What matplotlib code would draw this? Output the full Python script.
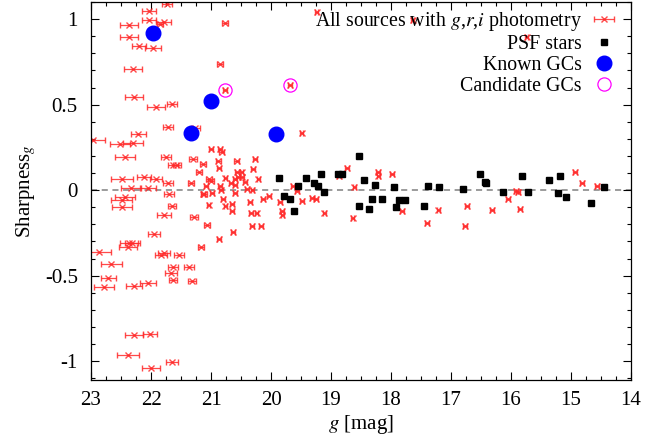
import matplotlib
matplotlib.use("Agg")
import matplotlib.pyplot as plt
from matplotlib.ticker import MultipleLocator, FuncFormatter

# All sources with g,r,i photometry: g mag, sharpness, g error
all_g = [21.73, 22.03, 22.03, 21.79, 21.85, 22.37, 22.36, 22.20, 21.97, 20.77,
         20.85, 22.30, 22.28, 21.91, 21.65, 21.72, 21.26, 22.21, 22.97, 22.52,
         22.30, 22.43, 21.75, 21.30, 21.63, 21.57, 21.13, 21.20, 22.48, 22.12,
         21.92, 21.72, 21.34, 21.04, 21.00, 22.33, 22.05, 21.70, 21.12, 22.43,
         22.49, 22.48, 21.65, 21.78, 21.28, 21.07, 21.95, 22.36, 22.31, 22.39,
         22.86, 21.83, 21.78, 21.53, 21.16, 22.66, 21.63, 21.37, 21.66, 22.71,
         21.63, 21.32, 22.05, 22.78, 22.28, 22.29, 22.02, 22.38, 21.65, 22.00,
         21.00, 20.85, 20.82, 20.88, 20.57, 20.27, 20.87, 20.30, 20.49, 20.57,
         20.76, 20.60, 20.55, 20.48, 20.21, 20.43, 20.67, 20.60, 21.08, 20.85,
         20.83, 20.40, 20.31, 19.63, 19.57, 20.80, 20.13, 20.03, 20.35, 20.60,
         21.13, 20.98, 21.04, 20.76, 20.65, 20.65, 20.33, 20.24, 19.85, 19.82,
         19.81, 19.32, 19.25, 19.48, 19.11, 18.64, 18.73, 18.61, 20.32, 20.17,
         20.63, 20.87, 19.49, 18.87, 18.22, 18.21, 17.98, 17.82, 17.40, 17.21,
         16.77, 16.73, 16.32, 16.05, 15.92, 15.88, 15.85, 14.93, 14.82, 14.57,
         19.24, 17.64, 15.74, 20.77, 19.68]
all_sharp = [1.090, 1.049, 0.996, 0.984, 0.971, 0.963, 0.896, 0.842, 0.830, 0.978,
             0.737, 0.709, 0.544, 0.484, 0.501, 0.372, 0.365, 0.326, 0.292, 0.269,
             0.275, 0.191, 0.193, 0.185, 0.146, 0.146, 0.152, 0.108, 0.064, 0.074,
             0.063, 0.039, 0.043, 0.064, 0.053, 0.013, 0.013, -0.025, -0.020, -0.041,
             -0.058, -0.101, -0.091, -0.146, -0.155, -0.202, -0.257, -0.308, -0.310, -0.332,
             -0.361, -0.377, -0.368, -0.378, -0.332, -0.431, -0.447, -0.447, -0.482, -0.513,
             -0.523, -0.532, -0.541, -0.569, -0.563, -0.844, -0.839, -0.963, -1.007, -1.039,
             0.240, 0.238, 0.222, 0.171, 0.168, 0.182, 0.132, 0.125, 0.105, 0.105,
             0.069, 0.064, 0.074, 0.076, 0.064, 0.047, 0.039, 0.029, 0.025, 0.023,
             0.000, 0.004, 0.003, 0.025, -0.003, -0.051, -0.054, -0.033, -0.069, -0.019,
             -0.020, -0.019, -0.089, -0.094, -0.082, -0.120, -0.136, -0.136, -0.070, -0.120,
             -0.143, -0.044, -0.051, -0.064, -0.136, -0.161, 0.127, 0.018, -0.211, -0.209,
             -0.244, -0.287, 0.332, 0.082, 0.107, 0.084, 0.094, -0.120, -0.191, -0.117,
             -0.209, -0.092, -0.114, -0.049, -0.004, -0.012, -0.111, 0.109, 0.043, 0.023,
             1.043, 0.994, 0.897, 0.585, 0.616]
all_gerr = [0.08, 0.12, 0.12, 0.13, 0.05, 0.15, 0.15, 0.12, 0.13, 0.05,
            0.05, 0.15, 0.15, 0.15, 0.08, 0.08, 0.07, 0.13, 0.20, 0.17,
            0.17, 0.17, 0.08, 0.07, 0.08, 0.07, 0.05, 0.05, 0.18, 0.12,
            0.10, 0.08, 0.05, 0.05, 0.05, 0.17, 0.13, 0.08, 0.05, 0.17,
            0.17, 0.17, 0.07, 0.12, 0.07, 0.05, 0.10, 0.15, 0.13, 0.15,
            0.20, 0.10, 0.10, 0.08, 0.05, 0.18, 0.08, 0.08, 0.10, 0.13,
            0.07, 0.07, 0.13, 0.17, 0.13, 0.15, 0.12, 0.18, 0.10, 0.15,
            0.04, 0.04, 0.04, 0.04, 0.04, 0.03, 0.03, 0.03, 0.03, 0.03,
            0.03, 0.03, 0.03, 0.03, 0.03, 0.03, 0.03, 0.03, 0.03, 0.03,
            0.03, 0.03, 0.03, 0.03, 0.03, 0.03, 0.03, 0.03, 0.03, 0.03,
            0.03, 0.03, 0.03, 0.03, 0.03, 0.03, 0.03, 0.03, 0.03, 0.03,
            0.03, 0.03, 0.03, 0.03, 0.03, 0.03, 0.03, 0.03, 0.03, 0.03,
            0.03, 0.03, 0.03, 0.03, 0.03, 0.03, 0.03, 0.03, 0.03, 0.03,
            0.03, 0.03, 0.03, 0.03, 0.03, 0.03, 0.03, 0.03, 0.03, 0.03,
            0.03, 0.03, 0.03, 0.03, 0.03]

# PSF stars
psf_g = [19.87, 19.42, 19.28, 19.16, 18.88, 18.82, 18.53, 19.55, 19.22, 19.12,
         19.79, 19.68, 19.62, 18.54, 18.45, 18.27, 17.95, 17.39, 17.20, 16.80,
         18.36, 18.31, 18.15, 17.91, 17.86, 17.77, 17.45, 16.51, 16.44, 16.41,
         16.13, 15.81, 15.72, 15.37, 15.19, 15.21, 15.08, 14.66, 14.45]
psf_sharp = [0.072, 0.072, 0.044, 0.092, 0.092, 0.095, 0.199, 0.023, 0.023, -0.010,
             -0.036, -0.049, -0.123, -0.091, 0.058, 0.033, 0.016, 0.023, 0.020, 0.006,
             -0.108, -0.053, -0.051, -0.096, -0.060, -0.055, -0.092, 0.093, 0.045, 0.041,
             -0.012, 0.080, -0.012, 0.060, 0.080, -0.016, -0.043, -0.078, 0.016]

# Known GCs
gc_g = [21.97, 21.00, 21.34, 19.92]
gc_sharp = [0.918, 0.520, 0.337, 0.330]

# Candidate GCs
cand_g = [20.77, 19.68]
cand_sharp = [0.585, 0.616]

plt.rcParams['font.family'] = ['Liberation Serif', 'DejaVu Serif']
plt.rcParams['mathtext.fontset'] = 'stix'
plt.rcParams['axes.unicode_minus'] = False
plt.rcParams['font.size'] = 15

fig = plt.figure(figsize=(6.65, 4.41), dpi=100)
ax = fig.add_axes([91 / 665, 1 - 380 / 441, 540 / 665, 378 / 441])

red = '#ff2a2a'
ax.axhline(0, color='#808080', linestyle=(0, (4, 3)), linewidth=1.1, zorder=1)

h_all = ax.errorbar(all_g, all_sharp, xerr=all_gerr, fmt='x', color=red, ms=4, mew=1.0,
                    elinewidth=0.9, capsize=2.4, capthick=0.9, alpha=0.85, zorder=2)
h_psf, = ax.plot(psf_g, psf_sharp, 's', color='black', ms=5, zorder=3)
h_gc, = ax.plot(gc_g, gc_sharp, 'o', color='#0000ff', ms=10.5, zorder=4)
h_cand, = ax.plot(cand_g, cand_sharp, 'o', mfc='none', mec='#ff00ff', mew=0.9, ms=9.5,
                  zorder=4)

ax.set_xlim(23, 14)
ax.set_ylim(-1.11, 1.10)
ax.xaxis.set_major_locator(MultipleLocator(1))
ax.xaxis.set_minor_locator(MultipleLocator(0.25))
ax.yaxis.set_major_locator(MultipleLocator(0.5))
ax.yaxis.set_minor_locator(MultipleLocator(0.1))
ax.yaxis.set_major_formatter(FuncFormatter(lambda v, p: '%g' % v))
ax.tick_params(which='both', direction='in', top=True, right=True, width=0.8)
ax.tick_params(which='major', length=6)
ax.tick_params(which='minor', length=3)
ax.tick_params(axis='x', which='major', pad=8)
ax.tick_params(axis='y', which='major', pad=9.5)
for sp in ax.spines.values():
    sp.set_linewidth(0.9)

ax.set_xlabel('$g$ [mag]', labelpad=2)
ax.set_ylabel('Sharpness$_g$', labelpad=5)

ax.legend([h_all, h_psf, h_gc, h_cand],
          ['All sources with $g$,$r$,$i$ photometry', 'PSF stars', 'Known GCs',
           'Candidate GCs'],
          loc='upper right', bbox_to_anchor=(0.975, 0.99), markerfirst=False, frameon=False,
          fontsize=14.3, handlelength=1.0, handletextpad=0.6, labelspacing=0.1,
          borderaxespad=0.0, borderpad=0.2)

fig.savefig('out.png', dpi=100)
